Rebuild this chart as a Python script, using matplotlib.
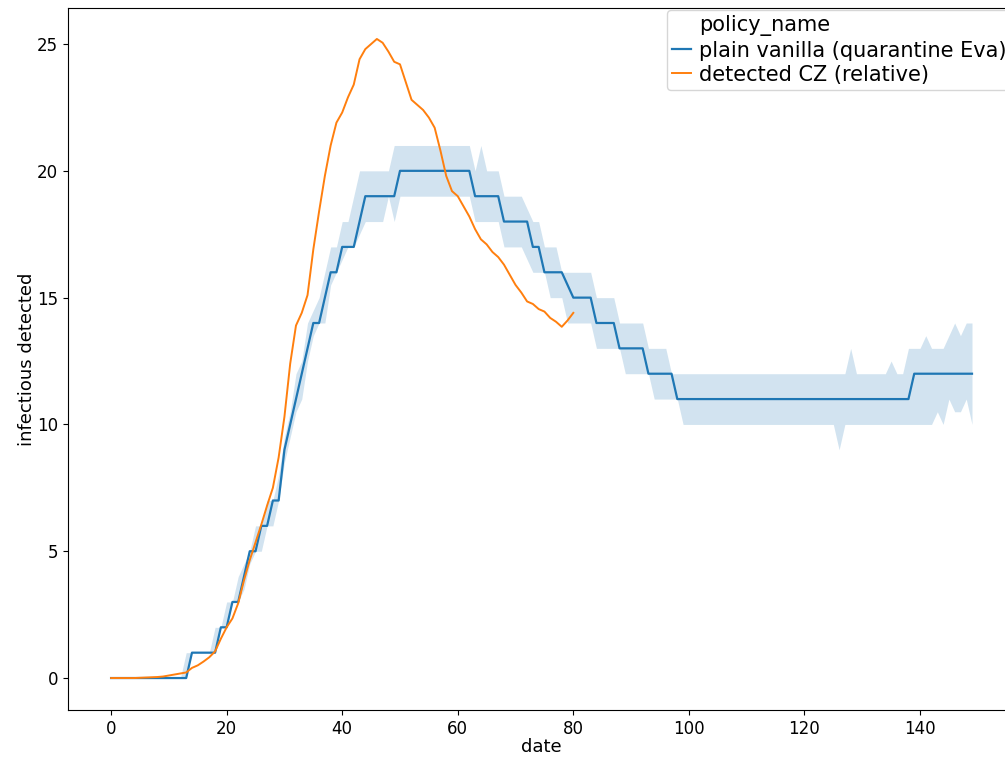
import numpy as np
import matplotlib
matplotlib.use('Agg')
import matplotlib.pyplot as plt

# simulated policy: median line with its band, one value per day (0..149)
vanilla_mid = [
    0, 0, 0, 0, 0, 0, 0, 0, 0, 0,
    0, 0, 0, 0, 1, 1, 1, 1, 1, 2,
    2, 3, 3, 4, 5, 5, 6, 6, 7, 7,
    9, 10, 11, 12, 13, 14, 14, 15, 16, 16,
    17, 17, 17, 18, 19, 19, 19, 19, 19, 19,
    20, 20, 20, 20, 20, 20, 20, 20, 20, 20,
    20, 20, 20, 19, 19, 19, 19, 19, 18, 18,
    18, 18, 18, 17, 17, 16, 16, 16, 16, 15.5,
    15, 15, 15, 15, 14, 14, 14, 14, 13, 13,
    13, 13, 13, 12, 12, 12, 12, 12, 11, 11,
    11, 11, 11, 11, 11, 11, 11, 11, 11, 11,
    11, 11, 11, 11, 11, 11, 11, 11, 11, 11,
    11, 11, 11, 11, 11, 11, 11, 11, 11, 11,
    11, 11, 11, 11, 11, 11, 11, 11, 11, 12,
    12, 12, 12, 12, 12, 12, 12, 12, 12, 12,
]
vanilla_lo = [
    0, 0, 0, 0, 0, 0, 0, 0, 0, 0,
    0, 0, 0, 0, 1, 1, 1, 1, 1, 2,
    2, 3, 3, 3.5, 4.5, 5, 5, 6, 6, 7,
    8.5, 9.5, 10.5, 11, 12.5, 13.5, 14, 14, 15.5, 16,
    16.5, 17, 17, 17.5, 18, 18, 18, 18, 19, 18,
    19, 19, 19, 19, 19, 19, 19, 19, 19, 19,
    19, 19, 19, 18, 18, 18, 18, 18, 17, 17,
    17, 17, 16.5, 16, 16, 16, 15, 15, 15, 14,
    14, 14, 14, 14, 13, 13, 13, 13, 13, 12,
    12, 12, 12, 12, 11, 11, 11, 11, 11, 10,
    10, 10, 10, 10, 10, 10, 10, 10, 10, 10,
    10, 10, 10, 10, 10, 10, 10, 10, 10, 10,
    10, 10, 10, 10, 10, 10, 9, 10, 10, 10,
    10, 10, 10, 10, 10, 10, 10, 10, 10, 10,
    10, 10, 10, 10.5, 10, 11, 10.5, 10.5, 11, 10,
]
vanilla_hi = [
    0, 0, 0, 0, 0, 0, 0, 0, 0, 0,
    0, 0, 0, 1, 1, 1, 1, 1, 2, 2,
    3, 3, 4, 4.5, 5, 6, 6, 7, 7, 8,
    9.5, 10.5, 12, 12.5, 14, 14.5, 15, 16, 17, 17,
    18, 18, 19, 20, 20, 20, 20, 20, 20, 21,
    21, 21, 21, 21, 21, 21, 21, 21, 21, 21,
    21, 21, 21, 20, 21, 20, 20, 20, 19, 19,
    19, 19, 18.5, 18, 18, 17, 17, 17, 16, 16,
    16, 16, 16, 16, 15, 15, 15, 15, 14, 14,
    14, 14, 14, 13, 13, 13, 13, 12, 12, 12,
    12, 12, 12, 12, 12, 12, 12, 12, 12, 12,
    12, 12, 12, 12, 12, 12, 12, 12, 12, 12,
    12, 12, 12, 12, 12, 12, 12, 12, 13, 12,
    12, 12, 12, 12, 12, 12.5, 12, 12, 13, 13,
    13, 13.5, 13, 13, 13, 13.5, 14, 13.5, 14, 14,
]

# observed CZ numbers (relative), days 0..80
cz_detected = [
    0, 0, 0, 0, 0, 0.01, 0.02, 0.03, 0.04, 0.06,
    0.1, 0.14, 0.18, 0.22, 0.4, 0.5, 0.65, 0.82, 1.05, 1.55,
    2.0, 2.35, 2.95, 3.85, 4.65, 5.35, 6.05, 6.8, 7.5, 8.7,
    10.3, 12.4, 13.9, 14.4, 15.1, 16.9, 18.4, 19.8, 21.0, 21.9,
    22.3, 22.9, 23.4, 24.4, 24.8, 25.0, 25.2, 25.05, 24.7, 24.3,
    24.2, 23.5, 22.8, 22.6, 22.4, 22.1, 21.7, 20.8, 19.8, 19.2,
    19.0, 18.6, 18.2, 17.7, 17.3, 17.1, 16.8, 16.6, 16.3, 15.9,
    15.5, 15.2, 14.85, 14.75, 14.55, 14.45, 14.2, 14.05, 13.85, 14.1,
    14.4,
]

policy_names = ['plain vanilla (quarantine Eva)', 'detected CZ (relative)']

days_sim = np.arange(len(vanilla_mid))
days_cz = np.arange(len(cz_detected))

fig = plt.figure(figsize=(10.05, 7.57), dpi=100)
# axes runs a bit past the right edge, like the cropped original
ax = fig.add_axes([0.0677, 0.0621, 0.9423, 0.9273])

ax.fill_between(days_sim, vanilla_lo, vanilla_hi, color='#1f77b4', alpha=0.2, linewidth=0)
ax.plot([], [], color='none', label='policy_name')
ax.plot(days_sim, vanilla_mid, color='#1f77b4', lw=1.6, label=policy_names[0])
ax.plot(days_cz, cz_detected, color='#ff7f0e', lw=1.4, label=policy_names[1])

ax.set_xlim(-7.45, 156.45)
ax.set_ylim(-1.26, 26.42)
ax.set_xticks(range(0, 141, 20))
ax.set_yticks(range(0, 26, 5))
ax.tick_params(labelsize=12)

ax.set_xlabel('date', fontsize=13, labelpad=0)
ax.set_ylabel('infectious detected', fontsize=13, labelpad=1)

ax.legend(loc='upper left', bbox_to_anchor=(0.6325, 0.997), borderaxespad=0,
          fontsize=15, labelspacing=0.2, borderpad=0.25,
          handlelength=0.9, handletextpad=0.4)

fig.savefig('out.png', dpi=100)
